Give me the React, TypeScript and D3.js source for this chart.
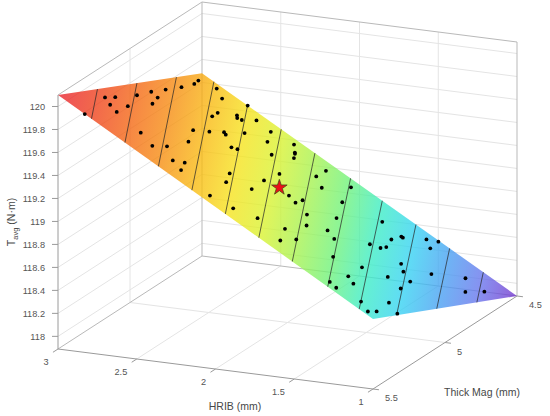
import { useEffect, useRef } from "react";
import * as d3 from "d3";

// axis ranges and ticks
const hribLimits = [1, 3];
const thickLimits = [4.5, 5.5];
const torqueLimits = [117.89, 120.1];
const hribTicks = [3, 2.5, 2, 1.5, 1];
const thickTicks = [5.5, 5, 4.5];
const torqueTicks = [118, 118.2, 118.4, 118.6, 118.8, 119, 119.2, 119.4, 119.6, 119.8, 120];

// fitted response surface (corner grid): rows = thick mag, cols = HRIB
const surfHrib = [3, 1];
const surfThick = [5.5, 4.5];
const surfTorque = [
  [120.1, 118.5],
  [119.48, 117.89],
];

// iso-torque contour levels
const contourLevels = [118.06, 118.23, 118.4, 118.57, 118.73, 118.91, 119.08, 119.25, 119.42, 119.59, 119.76, 119.93];

// sample points (HRIB mm, Thick Mag mm)
const sampleHrib = [
  2.83, 2.93, 2.92, 2.87, 2.81, 2.84, 2.91, 2.92, 2.87, 2.83, 2.92, 2.92, 2.93, 2.95, 2.63, 2.52, 2.5, 2.39, 2.31, 2.36,
  2.59, 2.51, 2.56, 2.87, 2.79, 2.67, 2.69, 2.54, 2.52, 2.42, 2.4, 2.65, 2.63, 2.61, 2.51, 2.71, 2.59, 2.49, 2.42, 2.32,
  2.23, 2.17, 2.09, 1.97, 2.09, 2.14, 1.87, 2.17, 2.37, 2.31, 2.3, 2.27, 2.0, 1.94, 1.95, 1.76, 1.67, 1.68, 2.14, 2.11,
  2.02, 1.99, 1.89, 1.84, 1.76, 1.78, 1.7, 1.63, 1.7, 1.57, 1.56, 1.56, 1.55, 1.51, 1.51, 1.5, 1.39, 1.37, 1.31, 1.34,
  1.29, 1.28, 1.32, 1.27, 1.23, 1.19, 1.14, 1.1, 1.06, 1.05, 1.01, 1.52, 1.49, 1.45, 1.26, 1.19, 1.09, 1.07,
];
const sampleThick = [
  5.5, 5.25, 5.19, 5.28, 5.3, 5.19, 5.05, 4.94, 4.95, 5.03, 4.84, 4.73, 4.63, 4.58, 5.33, 5.37, 5.29, 5.37, 5.4, 5.32,
  5.01, 5.13, 4.93, 4.54, 4.59, 4.79, 4.73, 4.85, 4.86, 4.93, 4.91, 4.64, 4.66, 4.65, 4.74, 4.5, 4.57, 4.58, 4.68, 4.76,
  5.15, 5.24, 5.44, 5.41, 5.15, 5.01, 5.35, 4.87, 4.55, 4.61, 4.62, 4.66, 4.99, 5.01, 4.95, 5.28, 5.3, 5.4, 4.58, 4.68,
  4.74, 4.57, 4.74, 5.04, 5.13, 4.9, 5.05, 5.08, 4.67, 4.68, 4.68, 4.76, 4.92, 4.89, 4.85, 5.23, 5.15, 4.9, 4.95, 5.3,
  5.08, 5.33, 5.45, 5.46, 4.99, 5.1, 5.43, 5.28, 5.47, 5.42, 5.32, 4.56, 4.51, 4.61, 4.81, 4.65, 4.76, 4.65,
];

// optimum design
const optimumHrib = [2.07];
const optimumThick = [4.98];

// colormap, low torque -> high torque
const colorStops = [
  "#7232cc", "#6572ec", "#459ff2", "#32d2f2", "#38ecc5", "#6cf279", "#a5f24c",
  "#d9f22c", "#f6e218", "#f9b90c", "#f68c0c", "#f4650f", "#ee3f18", "#e91f29",
];

const surfaceAt = (h: number, t: number) => {
  const a = (h - surfHrib[0]) / (surfHrib[1] - surfHrib[0]);
  const b = (t - surfThick[0]) / (surfThick[1] - surfThick[0]);
  const top = surfTorque[0][0] * (1 - a) + surfTorque[0][1] * a;
  const bot = surfTorque[1][0] * (1 - a) + surfTorque[1][1] * a;
  return top * (1 - b) + bot * b;
};

const W = 550;
const H = 416;

function SurfaceChart() {
  const ref = useRef<SVGSVGElement>(null);

  useEffect(() => {
    if (!ref.current) return;
    const svg = d3.select(ref.current);
    svg.selectAll("*").remove();

    const origin = [58, 349];
    const hVec = [315, 40];
    const tVec = [144, -93];
    const hS = d3.scaleLinear().domain([hribLimits[1], hribLimits[0]]).range([0, 1]);
    const tS = d3.scaleLinear().domain([thickLimits[1], thickLimits[0]]).range([0, 1]);
    const zS = d3.scaleLinear().domain(torqueLimits).range([0, 254]);
    const proj = (h: number, t: number, z: number): [number, number] => [
      origin[0] + hS(h) * hVec[0] + tS(t) * tVec[0],
      origin[1] + hS(h) * hVec[1] + tS(t) * tVec[1] - zS(z),
    ];
    const [hMin, hMax] = hribLimits;
    const [tMin, tMax] = thickLimits;
    const [zMin, zMax] = torqueLimits;

    const seg = (g: any, a: [number, number], b: [number, number], color: string, w = 1) =>
      g.append("line")
        .attr("x1", a[0]).attr("y1", a[1]).attr("x2", b[0]).attr("y2", b[1])
        .attr("stroke", color).attr("stroke-width", w);

    svg.append("rect").attr("width", W).attr("height", H).attr("fill", "#fff");

    // grid on back walls and floor
    const grid = svg.append("g");
    const gridCol = "#e4e4e4";
    torqueTicks.forEach((z) => {
      seg(grid, proj(hMax, tMax, z), proj(hMax, tMin, z), gridCol);
      seg(grid, proj(hMax, tMin, z), proj(hMin, tMin, z), gridCol);
    });
    hribTicks.filter((h) => h > hMin && h < hMax).forEach((h) => {
      seg(grid, proj(h, tMin, zMin), proj(h, tMin, zMax), gridCol);
      seg(grid, proj(h, tMax, zMin), proj(h, tMin, zMin), gridCol);
    });
    thickTicks.filter((t) => t > tMin && t < tMax).forEach((t) => {
      seg(grid, proj(hMax, t, zMin), proj(hMax, t, zMax), gridCol);
      seg(grid, proj(hMax, t, zMin), proj(hMin, t, zMin), gridCol);
    });

    // back box edges
    const edgeCol = "#b9b9b9";
    seg(grid, proj(hMax, tMax, zMax), proj(hMax, tMin, zMax), edgeCol);
    seg(grid, proj(hMax, tMin, zMax), proj(hMin, tMin, zMax), edgeCol);
    seg(grid, proj(hMax, tMin, zMin), proj(hMax, tMin, zMax), edgeCol);
    seg(grid, proj(hMin, tMin, zMin), proj(hMin, tMin, zMax), edgeCol);
    seg(grid, proj(hMax, tMax, zMin), proj(hMax, tMin, zMin), edgeCol);
    seg(grid, proj(hMax, tMin, zMin), proj(hMin, tMin, zMin), edgeCol);

    // surface with interpolated colour along torque
    const corners: [number, number][] = [
      [surfHrib[0], surfThick[0]],
      [surfHrib[0], surfThick[1]],
      [surfHrib[1], surfThick[1]],
      [surfHrib[1], surfThick[0]],
    ];
    const cz = corners.map(([h, t]) => surfaceAt(h, t));
    const cp = corners.map(([h, t], i) => proj(h, t, cz[i]));
    // screen-space gradient of torque
    const d1 = [cp[1][0] - cp[0][0], cp[1][1] - cp[0][1]];
    const d2 = [cp[3][0] - cp[0][0], cp[3][1] - cp[0][1]];
    const dz1 = cz[1] - cz[0];
    const dz2 = cz[3] - cz[0];
    const det = d1[0] * d2[1] - d1[1] * d2[0];
    const ga = (dz1 * d2[1] - d1[1] * dz2) / det;
    const gb = (d1[0] * dz2 - dz1 * d2[0]) / det;
    const lo = d3.minIndex(cz);
    const hi = d3.maxIndex(cz);
    const span = (cz[hi] - cz[lo]) / (ga * ga + gb * gb);
    const defs = svg.append("defs");
    const grad = defs.append("linearGradient")
      .attr("id", "surfGrad")
      .attr("gradientUnits", "userSpaceOnUse")
      .attr("x1", cp[lo][0]).attr("y1", cp[lo][1])
      .attr("x2", cp[lo][0] + ga * span).attr("y2", cp[lo][1] + gb * span);
    grad.selectAll("stop").data(colorStops).enter().append("stop")
      .attr("offset", (_d, i) => i / (colorStops.length - 1))
      .attr("stop-color", (d) => d);

    svg.append("path")
      .attr("d", d3.line()(cp) + "Z")
      .attr("fill", "url(#surfGrad)")
      .attr("fill-opacity", 0.78);

    // contour lines
    const cont = svg.append("g");
    contourLevels.forEach((lev) => {
      const pts: [number, number][] = [];
      for (let i = 0; i < 4; i++) {
        const j = (i + 1) % 4;
        const za = cz[i], zb = cz[j];
        if ((lev - za) * (lev - zb) <= 0 && za !== zb) {
          const f = (lev - za) / (zb - za);
          const h = corners[i][0] + f * (corners[j][0] - corners[i][0]);
          const t = corners[i][1] + f * (corners[j][1] - corners[i][1]);
          pts.push(proj(h, t, lev));
        }
      }
      if (pts.length >= 2) seg(cont, pts[0], pts[1], "rgba(40,40,40,0.72)", 1);
    });

    // sample points
    svg.append("g").selectAll("circle")
      .data(sampleHrib.map((h, i) => [h, sampleThick[i]]))
      .enter().append("circle")
      .attr("cx", (d) => proj(d[0], d[1], surfaceAt(d[0], d[1]))[0])
      .attr("cy", (d) => proj(d[0], d[1], surfaceAt(d[0], d[1]))[1])
      .attr("r", 1.9)
      .attr("fill", "#000");

    // optimum
    svg.append("g").selectAll("path")
      .data(optimumHrib.map((h, i) => [h, optimumThick[i]]))
      .enter().append("path")
      .attr("d", d3.symbol(d3.symbolStar, 75)())
      .attr("transform", (d) => {
        const p = proj(d[0], d[1], surfaceAt(d[0], d[1]));
        return `translate(${p[0]},${p[1]})`;
      })
      .attr("fill", "#ec0f18")
      .attr("stroke", "#4a4a18")
      .attr("stroke-width", 0.8);

    // front axes
    const ax = svg.append("g");
    const axCol = "#9a9a9a";
    seg(ax, proj(hMax, tMax, zMin), proj(hMax, tMax, zMax), axCol);
    seg(ax, proj(hMax, tMax, zMin), proj(hMin, tMax, zMin), axCol);
    seg(ax, proj(hMin, tMax, zMin), proj(hMin, tMin, zMin), axCol);

    const font = "'Liberation Sans', Arial, Helvetica, sans-serif";
    const tickCol = "#555";

    torqueTicks.forEach((z) => {
      const p = proj(hMax, tMax, z);
      seg(ax, [p[0] - 6, p[1]], p, axCol);
      ax.append("text").attr("x", p[0] - 13).attr("y", p[1] + 3.2)
        .attr("text-anchor", "end").attr("font-family", font).attr("font-size", 9.2)
        .attr("fill", tickCol).text(d3.format("~g")(z));
    });
    const tLen = Math.hypot(tVec[0], tVec[1]);
    hribTicks.forEach((h) => {
      const p = proj(h, tMax, zMin);
      seg(ax, p, [p[0] - (tVec[0] / tLen) * 6, p[1] - (tVec[1] / tLen) * 6], axCol);
      ax.append("text").attr("x", p[0] - 9.5).attr("y", p[1] + 15.5)
        .attr("text-anchor", "end").attr("font-family", font).attr("font-size", 9.2)
        .attr("fill", tickCol).text(d3.format("~g")(h));
    });
    const hLen = Math.hypot(hVec[0], hVec[1]);
    thickTicks.forEach((t) => {
      const p = proj(hMin, t, zMin);
      seg(ax, p, [p[0] + (hVec[0] / hLen) * 6, p[1] + (hVec[1] / hLen) * 6], axCol);
      ax.append("text").attr("x", p[0] + 12).attr("y", p[1] + 12)
        .attr("text-anchor", "start").attr("font-family", font).attr("font-size", 9.2)
        .attr("fill", tickCol).text(d3.format("~g")(t));
    });

    // axis titles
    const labCol = "#474747";
    ax.append("text").attr("x", 235).attr("y", 410)
      .attr("text-anchor", "middle").attr("font-family", font).attr("font-size", 10.5)
      .attr("fill", labCol).text("HRIB (mm)");
    ax.append("text").attr("x", 482).attr("y", 396)
      .attr("text-anchor", "middle").attr("font-family", font).attr("font-size", 10.5)
      .attr("fill", labCol).text("Thick Mag (mm)");
    const zl = ax.append("text")
      .attr("transform", "translate(15,222) rotate(-90)")
      .attr("text-anchor", "middle").attr("font-family", font).attr("font-size", 10.5)
      .attr("fill", labCol);
    zl.append("tspan").text("T");
    zl.append("tspan").attr("dy", 3).attr("font-size", 7.5).text("avg");
    zl.append("tspan").attr("dy", -3).text(" (N·m)");
  }, []);

  return (
    <svg
      ref={ref}
      width={W}
      height={H}
      style={{ position: "absolute", left: 0, top: 0, display: "block" }}
    />
  );
}

export default function App() {
  return <SurfaceChart />;
}
